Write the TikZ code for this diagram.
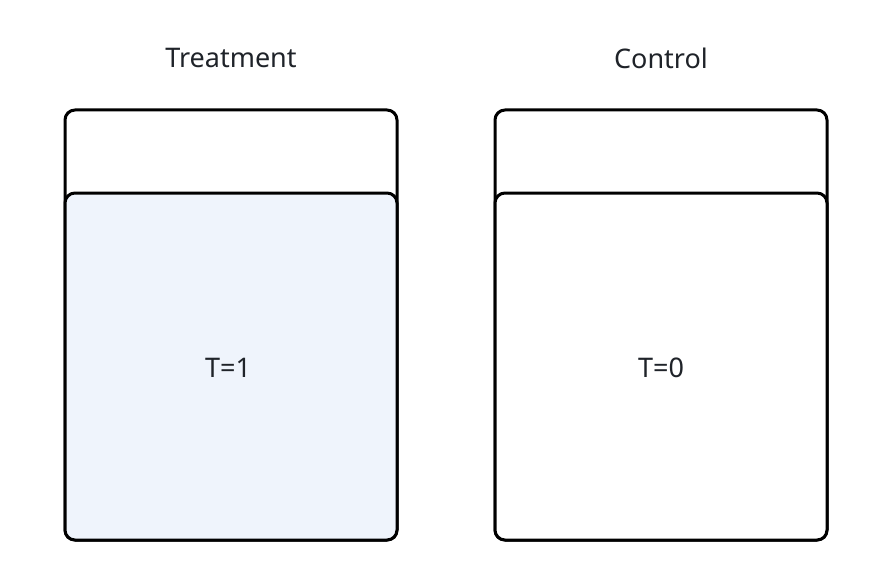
\documentclass[tikz,border=0pt]{standalone}
\usepackage{fontspec}
\setmainfont{Noto Sans}
\usetikzlibrary{positioning}
\definecolor{txtgray}{HTML}{1F2329}
\definecolor{lightblue}{HTML}{EFF4FC}

\begin{document}
\begin{tikzpicture}[x=1pt,y=-1pt,
    box/.style={draw=black,line width=3pt,rounded corners=10pt},
    lbl/.style={text=txtgray,font=\fontsize{27}{31}\selectfont}]
    \useasboundingbox (0,0) rectangle (896,572);
    % treatment group
    \draw[box] (65,110) rectangle (397,540);
    \draw[box,fill=lightblue] (65,193) rectangle (397,540);
    \node[lbl] (treat) at (231,58) {Treatment};
    \node[lbl] (tone) at (228,368) {T=1};
    % control group
    \draw[box] (495,110) rectangle (827,540);
    \draw[box,fill=white] (495,193) rectangle (827,540);
    \node[lbl] (ctrl) at (661,58) {Control};
    \node[lbl] (tzero) at (661,368) {T=0};
\end{tikzpicture}
\end{document}
